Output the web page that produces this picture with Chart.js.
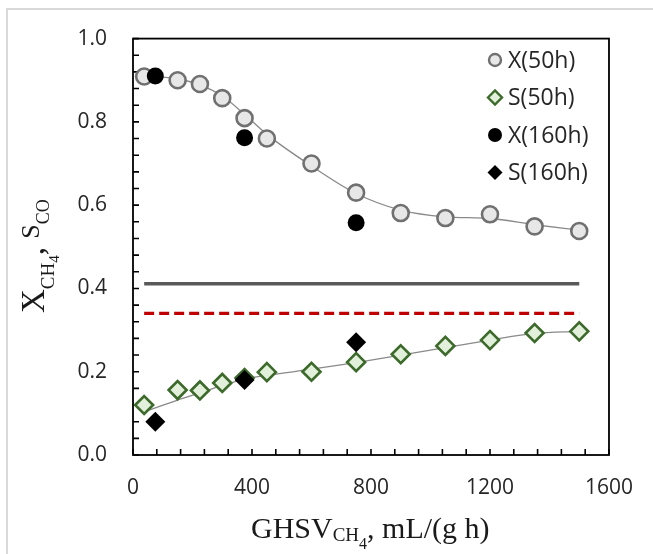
<!DOCTYPE html>
<html>
<head>
<meta charset="utf-8">
<script src="https://cdn.jsdelivr.net/npm/chart.js@4/dist/chart.umd.min.js"></script>
<style>
  html, body { margin: 0; padding: 0; background: #ffffff; }
  #wrap { position: relative; width: 653px; height: 554px; }
</style>
</head>
<body>
<div id="wrap"><canvas id="c" width="653" height="554"></canvas></div>
<script>
// ---- data ----
const ghsv50 = [37.5, 150, 225, 300, 375, 450, 600, 750, 900, 1050, 1200, 1350, 1500];
const conv50 = [0.909, 0.900, 0.891, 0.857, 0.809, 0.760, 0.700, 0.630, 0.581, 0.569, 0.578, 0.549, 0.538];
const sel50  = [0.120, 0.156, 0.155, 0.173, 0.185, 0.199, 0.200, 0.223, 0.242, 0.262, 0.276, 0.293, 0.297];
const ghsv160 = [75, 375, 750];
const conv160 = [0.910, 0.762, 0.558];
const sel160  = [0.080, 0.180, 0.271];
const convTrend = [0.912, 0.903, 0.889, 0.862, 0.818, 0.770, 0.694, 0.628, 0.588, 0.572, 0.568, 0.553, 0.540];
const selTrend  = [0.104, 0.132, 0.149, 0.167, 0.182, 0.191, 0.206, 0.222, 0.240, 0.258, 0.276, 0.292, 0.297];
const refX = [37.5, 1500];
const refSolid = [0.411, 0.411];
const refDashed = [0.340, 0.340];
const seriesNames = ['X(50h)', 'S(50h)', 'X(160h)', 'S(160h)'];
const xTicks = [0, 400, 800, 1200, 1600];
const yTicks = [0.0, 0.2, 0.4, 0.6, 0.8, 1.0];

const pts = (xs, ys) => xs.map((x, i) => ({x: x, y: ys[i]}));

const GRAY_FILL = '#e7e7e7', GRAY_EDGE = '#707070';
const GREEN_FILL = '#e2efda', GREEN_EDGE = '#3b6a2b';

const datasets = [
  {label: seriesNames[2], data: pts(ghsv160, conv160), pointStyle: 'circle', pointRadius: 8.5,
   backgroundColor: '#000', borderColor: '#000', pointBorderWidth: 0, showLine: false},
  {label: seriesNames[3], data: pts(ghsv160, sel160), pointStyle: 'rectRot', pointRadius: 10,
   backgroundColor: '#000', borderColor: '#000', pointBorderWidth: 0, showLine: false},
  {label: seriesNames[0], data: pts(ghsv50, conv50), pointStyle: 'circle', pointRadius: 8,
   backgroundColor: GRAY_FILL, borderColor: GRAY_EDGE, pointBorderWidth: 2.6, showLine: false},
  {label: seriesNames[1], data: pts(ghsv50, sel50), pointStyle: 'rectRot', pointRadius: 9,
   backgroundColor: GREEN_FILL, borderColor: GREEN_EDGE, pointBorderWidth: 2.6, showLine: false},
  {label: 'trendX', data: pts(ghsv50, convTrend), showLine: true, pointRadius: 0,
   borderColor: '#8a8a8a', borderWidth: 1.3, tension: 0.4, cubicInterpolationMode: 'monotone', fill: false},
  {label: 'trendS', data: pts(ghsv50, selTrend), showLine: true, pointRadius: 0,
   borderColor: '#8a8a8a', borderWidth: 1.3, tension: 0.4, cubicInterpolationMode: 'monotone', fill: false},
  {label: 'refSolid', data: pts(refX, refSolid), showLine: true, pointRadius: 0,
   borderColor: '#595959', borderWidth: 3.5, fill: false},
  {label: 'refDashed', data: pts(refX, refDashed), showLine: true, pointRadius: 0,
   borderColor: '#c00000', borderWidth: 3.4, borderDash: [10, 5], fill: false}
];

const legendItems = [
  {name: seriesNames[0], style: 'circle', fill: GRAY_FILL, edge: GRAY_EDGE, r: 6, bw: 2.4},
  {name: seriesNames[1], style: 'rectRot', fill: GREEN_FILL, edge: GREEN_EDGE, r: 7, bw: 2.4},
  {name: seriesNames[2], style: 'circle', fill: '#000', edge: '#000', r: 7, bw: 0},
  {name: seriesNames[3], style: 'rectRot', fill: '#000', edge: '#000', r: 7.5, bw: 0}
];

function drawRich(ctx, parts, x0, y0) {
  // parts: [text, fontSize, baselineOffset]
  let x = x0;
  for (const p of parts) {
    ctx.font = p[1] + 'px "Liberation Serif", "Times New Roman", serif';
    ctx.fillText(p[0], x, y0 + p[2]);
    x += ctx.measureText(p[0]).width;
  }
}

const decor = {
  id: 'decor',
  beforeDraw(chart) {
    const ctx = chart.ctx;
    ctx.save();
    ctx.strokeStyle = '#d9d9d9';
    ctx.lineWidth = 2;
    ctx.beginPath();
    ctx.moveTo(7, 554); ctx.lineTo(7, 9); ctx.lineTo(653, 9);
    ctx.stroke();
    ctx.restore();
  },
  beforeDatasetsDraw(chart) {
    const ctx = chart.ctx, a = chart.chartArea;
    const xs = chart.scales.x, ys = chart.scales.y;
    ctx.save();
    ctx.strokeStyle = '#000';
    ctx.lineWidth = 1.8;
    ctx.strokeRect(a.left, a.top, a.right - a.left, a.bottom - a.top);
    ctx.lineWidth = 1.6;
    ctx.beginPath();
    for (let v = 0; v <= 1600 + 1e-6; v += 80) {
      const px = xs.getPixelForValue(v);
      ctx.moveTo(px, a.bottom); ctx.lineTo(px, a.bottom - 6);
    }
    for (let v = 0; v <= 1.0 + 1e-6; v += 0.04) {
      const py = ys.getPixelForValue(v);
      ctx.moveTo(a.left, py); ctx.lineTo(a.left + 6, py);
    }
    ctx.stroke();
    ctx.restore();
  },
  afterDraw(chart) {
    const ctx = chart.ctx;
    ctx.save();
    // legend
    const lx = 495, ly0 = 60, dy = 37.5;
    legendItems.forEach((it, i) => {
      const cy = ly0 + i * dy;
      ctx.fillStyle = it.fill; ctx.strokeStyle = it.edge; ctx.lineWidth = it.bw;
      ctx.beginPath();
      if (it.style === 'circle') {
        ctx.arc(lx, cy, it.r, 0, Math.PI * 2);
      } else {
        ctx.moveTo(lx - it.r, cy); ctx.lineTo(lx, cy - it.r);
        ctx.lineTo(lx + it.r, cy); ctx.lineTo(lx, cy + it.r); ctx.closePath();
      }
      ctx.fill();
      if (it.bw > 0) ctx.stroke();
      ctx.fillStyle = '#262626';
      ctx.font = '23px "Open Sans", sans-serif';
      ctx.textBaseline = 'middle';
      ctx.textAlign = 'left';
      ctx.fillText(it.name, 508, cy + 1);
    });
    // x title
    ctx.fillStyle = '#1a1a1a';
    ctx.textBaseline = 'alphabetic';
    drawRich(ctx, [['GHSV', 30, 0], ['CH', 19, 3], ['4', 16, 11], [', mL/(g h)', 30, 0]], 251, 538);
    // y title
    ctx.save();
    ctx.translate(44, 313);
    ctx.rotate(-Math.PI / 2);
    drawRich(ctx, [['X', 33, 0], ['CH', 19, 10], ['4', 15, 15], [', ', 33, 0], ['S', 26, -5], ['CO', 18, 5]], 0, 0);
    ctx.restore();
    ctx.restore();
  }
};

new Chart(document.getElementById('c'), {
  type: 'scatter',
  data: {datasets: datasets},
  options: {
    responsive: false,
    animation: false,
    layout: {padding: {left: 0, top: 37, right: 40, bottom: 0}},
    plugins: {legend: {display: false}, tooltip: {enabled: false}},
    scales: {
      x: {
        type: 'linear', min: 0, max: 1600,
        afterBuildTicks: s => { s.ticks = xTicks.map(v => ({value: v})); },
        ticks: {padding: 20, color: '#262626', font: {family: '"Open Sans", sans-serif', size: 21},
                callback: v => String(v), maxRotation: 0},
        grid: {display: false, drawTicks: false},
        border: {display: false},
        afterFit: s => { s.height = 99; }
      },
      y: {
        type: 'linear', min: 0, max: 1.0,
        afterBuildTicks: s => { s.ticks = yTicks.map(v => ({value: v})); },
        ticks: {padding: 26, color: '#262626', font: {family: '"Open Sans", sans-serif', size: 21},
                callback: v => Number(v).toFixed(1)},
        grid: {display: false, drawTicks: false},
        border: {display: false},
        afterFit: s => { s.width = 133; }
      }
    }
  },
  plugins: [decor]
});
</script>
</body>
</html>
